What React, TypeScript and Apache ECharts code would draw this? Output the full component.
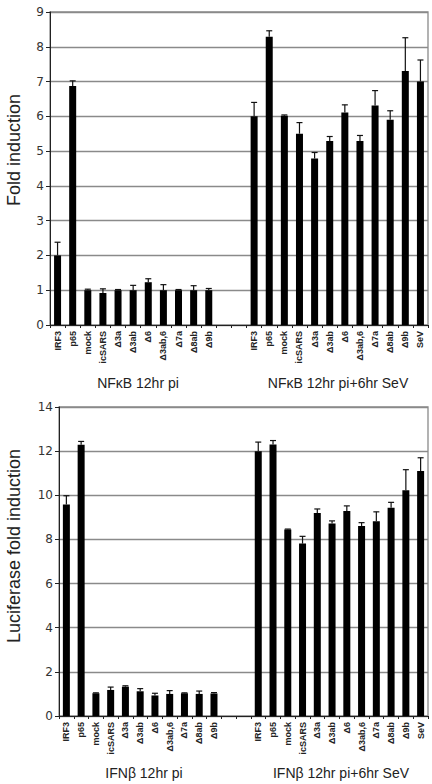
import React, { useEffect, useRef } from "react";
import * as echarts from "echarts";

const leftCats = ["IRF3", "p65", "mock", "icSARS", "Δ3a", "Δ3ab", "Δ6", "Δ3ab,6", "Δ7a", "Δ8ab", "Δ9b"];
const rightCats = ["IRF3", "p65", "mock", "icSARS", "Δ3a", "Δ3ab", "Δ6", "Δ3ab,6", "Δ7a", "Δ8ab", "Δ9b", "SeV"];
const gapCats = ["", ""];

// NFkB panel
const nfkbPi = [2.0, 6.87, 1.0, 0.92, 1.0, 1.0, 1.23, 1.0, 1.0, 1.0, 1.0];
const nfkbPiErr = [0.38, 0.15, 0.03, 0.12, 0.02, 0.14, 0.1, 0.16, 0.02, 0.13, 0.05];
const nfkbSev = [6.0, 8.29, 6.02, 5.5, 4.79, 5.29, 6.11, 5.29, 6.31, 5.9, 7.3, 7.0];
const nfkbSevErr = [0.4, 0.17, 0.02, 0.32, 0.17, 0.13, 0.22, 0.16, 0.43, 0.26, 0.96, 0.62];

// IFNb panel
const ifnPi = [9.58, 12.29, 1.03, 1.18, 1.33, 1.12, 0.93, 1.0, 1.03, 1.0, 1.02];
const ifnPiErr = [0.4, 0.15, 0.02, 0.13, 0.04, 0.12, 0.1, 0.15, 0.02, 0.13, 0.04];
const ifnSev = [12.0, 12.3, 8.45, 7.81, 9.2, 8.72, 9.29, 8.61, 8.82, 9.43, 10.23, 11.1];
const ifnSevErr = [0.41, 0.18, 0.02, 0.33, 0.18, 0.12, 0.23, 0.15, 0.43, 0.25, 0.93, 0.6];

const categories = [...leftCats, ...gapCats, ...rightCats];

function joinVals(a: number[], b: number[]) {
  return [...a, null, null, ...b];
}

function errData(vals: number[], errs: number[], offset: number) {
  return vals.map((v, i) => [i + offset, v, errs[i]]);
}

const sans = "'Liberation Sans', Arial, sans-serif";
const verd = "'DejaVu Sans', Verdana, sans-serif";

function renderErr(params: any, api: any) {
  const x = api.value(0);
  const v = api.value(1);
  const e = api.value(2);
  const p0 = api.coord([x, v]);
  const p1 = api.coord([x, v + e]);
  const half = 3;
  return {
    type: "group",
    children: [
      { type: "line", shape: { x1: p0[0], y1: p0[1], x2: p1[0], y2: p1[1] }, style: { stroke: "#111", lineWidth: 1.2 } },
      { type: "line", shape: { x1: p1[0] - half, y1: p1[1], x2: p1[0] + half, y2: p1[1] }, style: { stroke: "#111", lineWidth: 1.2 } },
    ],
  };
}

export default function App() {
  const ref = useRef<HTMLDivElement>(null);
  useEffect(() => {
    if (!ref.current) return;
    const chart = echarts.init(ref.current, null, { renderer: "svg" });
    const xAxisBase = (gridIndex: number) => ({
      type: "category",
      gridIndex,
      data: categories,
      boundaryGap: true,
      axisLine: { lineStyle: { color: "#222", width: 1 } },
      axisTick: { show: true, length: 3, lineStyle: { color: "#222" } },
      axisLabel: {
        rotate: 90,
        interval: 0,
        margin: 6,
        fontFamily: sans,
        fontWeight: "bold",
        fontSize: 9,
        color: "#222",
      },
    });
    const yAxisBase = (gridIndex: number, max: number, interval: number, margin: number) => ({
      type: "value",
      gridIndex,
      min: 0,
      max,
      interval,
      axisLine: { show: true, lineStyle: { color: "#222", width: 1 } },
      axisTick: { show: true, length: 4, lineStyle: { color: "#222" } },
      axisLabel: { fontFamily: verd, fontSize: 12, color: "#333", margin },
      splitLine: { show: true, lineStyle: { color: "#8a8a8a", width: 1.3 } },
    });
    chart.setOption({
      animation: false,
      backgroundColor: "#fff",
      grid: [
        { left: 50, top: 12, width: 378, height: 313, show: true, borderColor: "#8a8a8a", borderWidth: 1.3 },
        { left: 59, top: 407, width: 369, height: 309, show: true, borderColor: "#8a8a8a", borderWidth: 1.3 },
      ],
      xAxis: [xAxisBase(0), xAxisBase(1)],
      yAxis: [yAxisBase(0, 9, 1, 6), yAxisBase(1, 14, 2, 6)],
      series: [
        {
          type: "bar",
          xAxisIndex: 0,
          yAxisIndex: 0,
          data: joinVals(nfkbPi, nfkbSev),
          barWidth: 7,
          itemStyle: { color: "#000" },
        },
        {
          type: "custom",
          xAxisIndex: 0,
          yAxisIndex: 0,
          renderItem: renderErr,
          encode: { x: 0, y: 1 },
          data: [...errData(nfkbPi, nfkbPiErr, 0), ...errData(nfkbSev, nfkbSevErr, 13)],
          z: 3,
        },
        {
          type: "bar",
          xAxisIndex: 1,
          yAxisIndex: 1,
          data: joinVals(ifnPi, ifnSev),
          barWidth: 7,
          itemStyle: { color: "#000" },
        },
        {
          type: "custom",
          xAxisIndex: 1,
          yAxisIndex: 1,
          renderItem: renderErr,
          encode: { x: 0, y: 1 },
          data: [...errData(ifnPi, ifnPiErr, 0), ...errData(ifnSev, ifnSevErr, 13)],
          z: 3,
        },
      ],
      graphic: [
        {
          type: "text",
          x: 14,
          y: 150,
          rotation: Math.PI / 2,
          style: { text: "Fold induction", font: `18px ${sans}`, fill: "#222", textAlign: "center", textVerticalAlign: "middle" },
        },
        {
          type: "text",
          x: 14,
          y: 546,
          rotation: Math.PI / 2,
          style: { text: "Luciferase fold induction", font: `18px ${sans}`, fill: "#222", textAlign: "center", textVerticalAlign: "middle" },
        },
        {
          type: "text",
          x: 138,
          y: 383,
          style: { text: "NFκB 12hr pi", font: `14px ${sans}`, fill: "#222", textAlign: "center", textVerticalAlign: "middle" },
        },
        {
          type: "text",
          x: 338,
          y: 383,
          style: { text: "NFκB 12hr pi+6hr SeV", font: `14px ${sans}`, fill: "#222", textAlign: "center", textVerticalAlign: "middle" },
        },
        {
          type: "text",
          x: 144,
          y: 773,
          style: { text: "IFNβ 12hr pi", font: `14px ${sans}`, fill: "#222", textAlign: "center", textVerticalAlign: "middle" },
        },
        {
          type: "text",
          x: 341,
          y: 773,
          style: { text: "IFNβ 12hr pi+6hr SeV", font: `14px ${sans}`, fill: "#222", textAlign: "center", textVerticalAlign: "middle" },
        },
      ],
    });
    return () => chart.dispose();
  }, []);
  return <div ref={ref} style={{ position: "fixed", left: 0, top: 0, width: 432, height: 784 }} />;
}
